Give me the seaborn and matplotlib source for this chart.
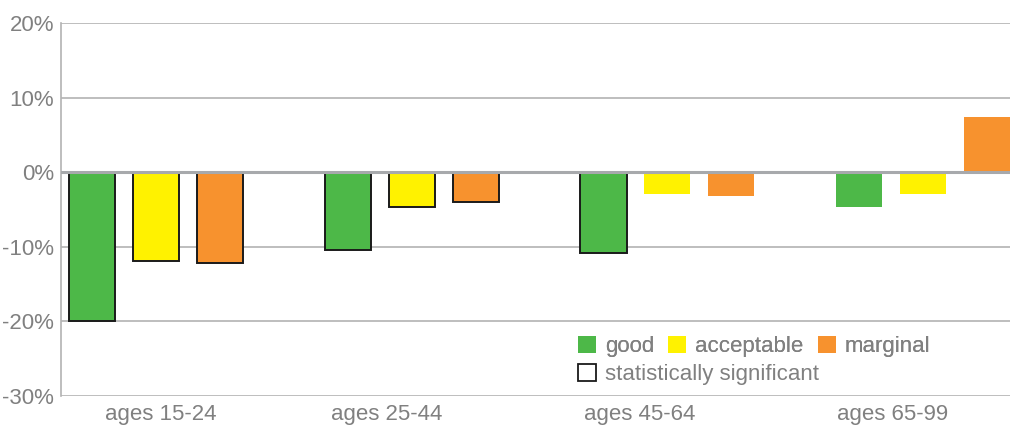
import matplotlib
matplotlib.use("Agg")
import matplotlib.pyplot as plt
from matplotlib.patches import Patch
import seaborn as sns
import pandas as pd

# ---- data ----
categories = ["ages 15-24", "ages 25-44", "ages 45-64", "ages 65-99"]
series = ["good", "acceptable", "marginal"]
good = [-19.9, -10.4, -10.8, -4.6]
acceptable = [-11.9, -4.7, -2.9, -2.9]
marginal = [-12.2, -4.0, -3.2, 7.4]
sig_good = [True, True, True, False]
sig_acceptable = [True, True, False, False]
sig_marginal = [True, True, False, False]
yticks = [-30, -20, -10, 0, 10, 20]
legend_sig_label = "statistically significant"

# ---- style ----
colors = {"good": "#4db848", "acceptable": "#fff200", "marginal": "#f7922e"}
text_color = "#808080"
grid_color = "#b3b3b3"
label_positions = [0.02, 0.90, 1.89, 2.88]
fs = 16

rows = []
for vals, sigs, name in [(good, sig_good, "good"),
                         (acceptable, sig_acceptable, "acceptable"),
                         (marginal, sig_marginal, "marginal")]:
    for c, v, s in zip(categories, vals, sigs):
        rows.append({"category": c, "series": name, "value": v, "sig": s})
df = pd.DataFrame(rows)

sns.set_theme(style="white")
plt.rcParams["font.family"] = ["Liberation Sans", "DejaVu Sans"]

fig = plt.figure(figsize=(10.13, 4.32), dpi=100)
ax = fig.add_axes([61 / 1013, 1 - 396 / 432, (1010 - 61) / 1013, (396 - 23) / 432])

sns.barplot(data=df, x="category", y="value", hue="series", order=categories,
            hue_order=series, palette=colors, width=0.75, gap=0.28,
            saturation=1, legend=False, ax=ax, linewidth=0, edgecolor="none")

# edges for statistically significant bars
for container, name in zip(ax.containers, series):
    sub = df[df["series"] == name].set_index("category").loc[categories]
    for patch, s in zip(container.patches, sub["sig"]):
        if s:
            patch.set_edgecolor("#1a1a1a")
            patch.set_linewidth(1.4)
        else:
            patch.set_edgecolor("none")
            patch.set_linewidth(0)

ax.set_ylim(-30, 20)
ax.set_xlim(-0.372, 3.34)
ax.set_yticks(yticks)
ax.set_yticklabels([f"{t}%" for t in yticks])
ax.set_xticks(label_positions)
ax.set_xticklabels(categories)
ax.set_xlabel("")
ax.set_ylabel("")
ax.tick_params(axis="both", colors=text_color, labelsize=fs, length=0)
ax.tick_params(axis="y", pad=5)
ax.tick_params(axis="x", pad=6)

for t in yticks:
    if t == 0:
        continue
    ax.axhline(t, color=grid_color, linewidth=1.2, zorder=0)
ax.axhline(0, color="#a7a9ac", linewidth=2.2, zorder=3)

for s in ["top", "right", "bottom"]:
    ax.spines[s].set_visible(False)
ax.spines["left"].set_color(grid_color)
ax.spines["left"].set_linewidth(1.2)

handles = [Patch(facecolor=colors[n], edgecolor="none") for n in series]
leg1 = fig.legend(handles, series, loc="upper left", ncol=3,
                  bbox_to_anchor=(578 / 1013, 1 - 336 / 432),
                  bbox_transform=fig.transFigure, frameon=False,
                  fontsize=fs, handlelength=0.8, handleheight=0.8,
                  handletextpad=0.4, columnspacing=0.65, borderpad=0,
                  borderaxespad=0, labelcolor=text_color)
leg2 = fig.legend([Patch(facecolor="white", edgecolor="#1a1a1a", linewidth=1.3)],
                  [legend_sig_label], loc="upper left",
                  bbox_to_anchor=(578 / 1013, 1 - 364 / 432),
                  bbox_transform=fig.transFigure, frameon=False,
                  fontsize=fs, handlelength=0.8, handleheight=0.8,
                  handletextpad=0.4, borderpad=0, borderaxespad=0,
                  labelcolor=text_color)
fig.add_artist(leg1)

fig.savefig("out.png", dpi=100)
